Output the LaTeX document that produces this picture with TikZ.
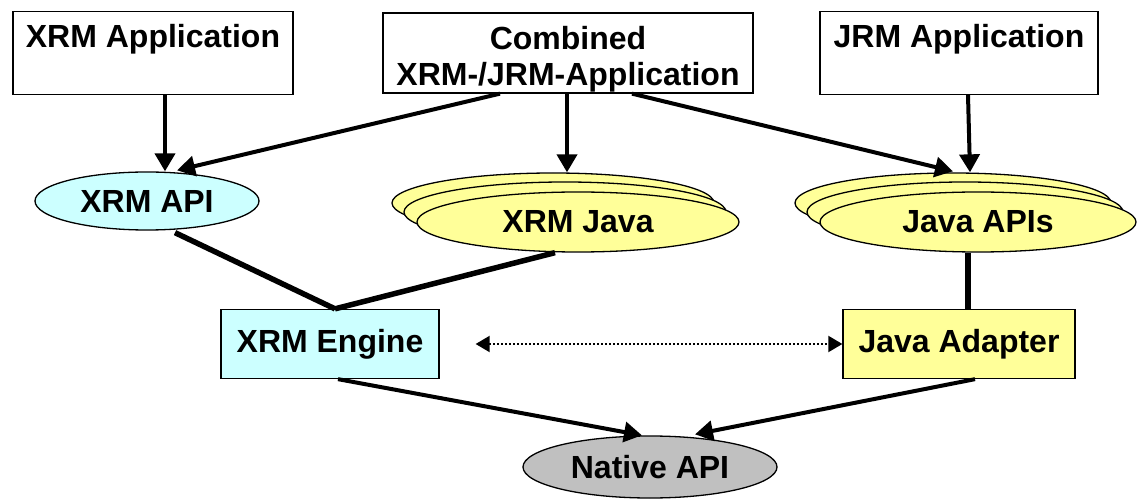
\documentclass[tikz,border=0pt]{standalone}
\usepackage{fontspec}
\setmainfont{Liberation Sans}
\usetikzlibrary{shapes.geometric,arrows.meta}
\definecolor{apicyan}{HTML}{CCFFFF}
\definecolor{javayellow}{HTML}{FFFF99}
\definecolor{nativegray}{HTML}{C0C0C0}
\newcommand{\topgap}{\rule{0pt}{36pt}}
\tikzset{
  lbl/.style={font=\fontsize{32}{36}\selectfont\bfseries, align=center},
  appbox/.style={lbl, draw=black, line width=1.3pt, fill=white, minimum height=80pt, inner sep=0pt},
  engbox/.style={lbl, draw=black, line width=1.3pt, minimum height=69pt, inner sep=0pt},
  oval/.style={lbl, ellipse, draw=black, line width=1.3pt, inner sep=0pt},
  feed/.style={line width=4pt, -{Triangle[length=18pt,width=20pt]}},
  link/.style={line width=5.5pt},
  peer/.style={line width=2pt, dotted, {Triangle[length=14pt,width=16pt]}-{Triangle[length=14pt,width=16pt]}}
}
\begin{document}
\begin{tikzpicture}[x=1pt,y=-1pt]
\useasboundingbox (0,0) rectangle (1137,502);

% application layer
\node[appbox, minimum width=280pt] (xapp) at (153,53) {\topgap XRM Application\\\strut};
\node[appbox, minimum width=370pt] (comb) at (568,53) {\topgap Combined\\XRM-/JRM-Application};
\node[appbox, minimum width=278pt] (japp) at (959,53) {\topgap JRM Application\\\strut};

% API layer
\node[oval, fill=apicyan, minimum width=224pt, minimum height=58pt] (xapi) at (147,201) {XRM API};

\node[oval, fill=javayellow, minimum width=322pt, minimum height=60pt] (xj3) at (553,203) {};
\node[oval, fill=javayellow, minimum width=322pt, minimum height=60pt] (xj2) at (565,212) {};
\node[oval, fill=javayellow, minimum width=322pt, minimum height=60pt] (xj1) at (578,222) {XRM Java};

\node[oval, fill=javayellow, minimum width=316pt, minimum height=60pt] (ja3) at (953,203) {};
\node[oval, fill=javayellow, minimum width=316pt, minimum height=60pt] (ja2) at (965,212) {};
\node[oval, fill=javayellow, minimum width=316pt, minimum height=60pt] (ja1) at (978,222) {Java APIs};

% engine layer
\node[engbox, fill=apicyan, minimum width=218pt] (xeng) at (330,344) {XRM Engine};
\node[engbox, fill=javayellow, minimum width=232pt] (jad) at (959,344) {Java Adapter};

% native layer
\node[oval, fill=nativegray, minimum width=254pt, minimum height=62pt] (nat) at (650,467) {Native API};

% application -> API arrows
\draw[feed] ([xshift=12pt]xapp.south) -- ([xshift=18pt]xapi.north);
\draw[feed] ([xshift=-68pt]comb.south) -- ([xshift=30pt,yshift=1pt]xapi.north);
\draw[feed] ([xshift=-1pt]comb.south) -- ([xshift=14pt]xj3.north);
\draw[feed] ([xshift=64pt]comb.south) -- ([xshift=0pt,yshift=1pt]ja3.north);
\draw[feed] ([xshift=9pt]japp.south) -- ([xshift=17pt]ja3.north);

% API -> engine links
\draw[link] ([xshift=28pt,yshift=-2pt]xapi.south) -- ([xshift=5pt]xeng.north);
\draw[link] ([xshift=-23pt]xj1.south) -- ([xshift=5pt]xeng.north);
\draw[link] ([xshift=-10pt]ja1.south) -- ([xshift=9pt]jad.north);

% engine <-> adapter
\draw[peer] ([xshift=36pt]xeng.east) -- (jad.west);

% engine -> native arrows
\draw[feed] ([xshift=8pt]xeng.south) -- ([xshift=-8pt]nat.north);
\draw[feed] ([xshift=16pt]jad.south) -- ([xshift=45pt,yshift=1pt]nat.north);
\end{tikzpicture}
\end{document}
